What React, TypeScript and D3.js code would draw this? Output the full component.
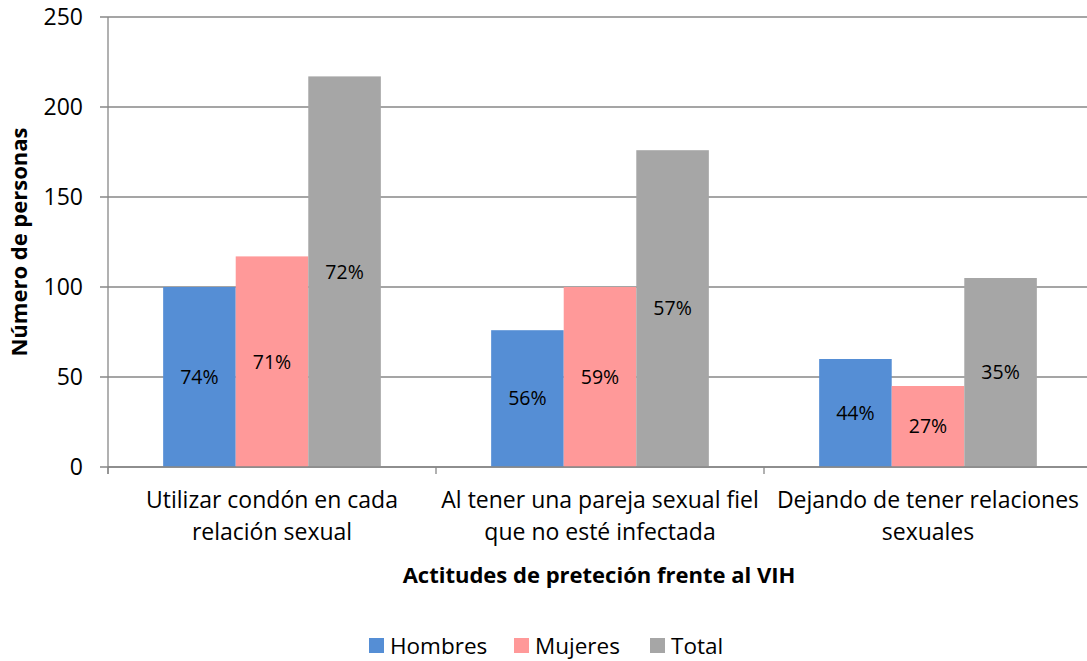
import { useEffect, useRef } from "react";
import * as d3 from "d3";

const categories = [
  ["Utilizar condón en cada", "relación sexual"],
  ["Al tener una pareja sexual fiel", "que no esté infectada"],
  ["Dejando de tener relaciones", "sexuales"],
];
const seriesNames = ["Hombres", "Mujeres", "Total"];
const hombres = [100, 76, 60];
const mujeres = [117, 100, 45];
const total = [217, 176, 105];
const hombresPct = ["74%", "56%", "44%"];
const mujeresPct = ["71%", "59%", "27%"];
const totalPct = ["72%", "57%", "35%"];
const yTicks = [0, 50, 100, 150, 200, 250];
const colors = ["#558ed5", "#ff9999", "#a6a6a6"];

const FONT = "'Open Sans', sans-serif";

export default function App() {
  const ref = useRef<SVGSVGElement | null>(null);

  useEffect(() => {
    if (!ref.current) return;
    const svg = d3.select(ref.current);
    svg.selectAll("*").remove();

    const left = 108;
    const right = 1092;
    const top = 17;
    const bottom = 467;

    const series = [hombres, mujeres, total];
    const labels = [hombresPct, mujeresPct, totalPct];

    const x0 = d3
      .scaleBand<number>()
      .domain(d3.range(categories.length))
      .range([left, right]);
    const x1 = d3
      .scaleBand<number>()
      .domain(d3.range(seriesNames.length))
      .range([0, x0.bandwidth()])
      .paddingOuter(0.76)
      .paddingInner(0);
    const y = d3.scaleLinear().domain([0, 250]).range([bottom, top]);

    // grid
    svg
      .append("g")
      .selectAll("line")
      .data(yTicks)
      .join("line")
      .attr("x1", left - 8)
      .attr("x2", right)
      .attr("y1", (d) => y(d))
      .attr("y2", (d) => y(d))
      .attr("stroke", "#878787")
      .attr("stroke-width", 1.3);

    // bars
    series.forEach((vals, si) => {
      const g = svg.append("g");
      g.selectAll("rect")
        .data(vals)
        .join("rect")
        .attr("x", (_, i) => x0(i)! + x1(si)!)
        .attr("y", (d) => y(d))
        .attr("width", x1.bandwidth())
        .attr("height", (d) => y(0) - y(d))
        .attr("fill", colors[si]);
      g.selectAll("text")
        .data(vals)
        .join("text")
        .attr("x", (_, i) => x0(i)! + x1(si)! + x1.bandwidth() / 2)
        .attr("y", (d) => (y(d) + y(0)) / 2)
        .attr("dy", "0.35em")
        .attr("text-anchor", "middle")
        .attr("font-family", FONT)
        .attr("font-size", 19.5)
        .attr("fill", "#000")
        .text((_, i) => labels[si][i]);
    });

    // axes lines
    svg
      .append("line")
      .attr("x1", left)
      .attr("x2", left)
      .attr("y1", top)
      .attr("y2", bottom + 7)
      .attr("stroke", "#878787")
      .attr("stroke-width", 1.3);
    svg
      .append("line")
      .attr("x1", left)
      .attr("x2", right)
      .attr("y1", bottom)
      .attr("y2", bottom)
      .attr("stroke", "#878787")
      .attr("stroke-width", 1.3);
    svg
      .append("g")
      .selectAll("line")
      .data(d3.range(categories.length + 1))
      .join("line")
      .attr("x1", (i) => left + i * x0.step())
      .attr("x2", (i) => left + i * x0.step())
      .attr("y1", bottom)
      .attr("y2", bottom + 7)
      .attr("stroke", "#878787")
      .attr("stroke-width", 1.3);

    // y tick labels
    svg
      .append("g")
      .selectAll("text")
      .data(yTicks)
      .join("text")
      .attr("x", 83)
      .attr("y", (d) => y(d))
      .attr("dy", "0.35em")
      .attr("text-anchor", "end")
      .attr("font-family", FONT)
      .attr("font-size", 23)
      .attr("fill", "#000")
      .text((d) => d);

    // x category labels
    const cat = svg.append("g");
    categories.forEach((lines, i) => {
      lines.forEach((ln, li) => {
        cat
          .append("text")
          .attr("x", x0(i)! + x0.bandwidth() / 2)
          .attr("y", 508 + li * 32)
          .attr("text-anchor", "middle")
          .attr("font-family", FONT)
          .attr("font-size", 23)
          .attr("fill", "#000")
          .text(ln);
      });
    });

    // axis titles
    svg
      .append("text")
      .attr("x", 599)
      .attr("y", 583)
      .attr("text-anchor", "middle")
      .attr("font-family", FONT)
      .attr("font-size", 22)
      .attr("font-weight", "bold")
      .attr("fill", "#000")
      .text("Actitudes de preteción frente al VIH");
    svg
      .append("text")
      .attr("transform", "translate(27,242) rotate(-90)")
      .attr("text-anchor", "middle")
      .attr("font-family", FONT)
      .attr("font-size", 22)
      .attr("font-weight", "bold")
      .attr("fill", "#000")
      .text("Número de personas");

    // legend
    const legendX = [369, 514, 650];
    const lg = svg.append("g");
    seriesNames.forEach((name, i) => {
      lg.append("rect")
        .attr("x", legendX[i])
        .attr("y", 638)
        .attr("width", 15)
        .attr("height", 15)
        .attr("fill", colors[i]);
      lg.append("text")
        .attr("x", legendX[i] + 21)
        .attr("y", 654)
        .attr("font-family", FONT)
        .attr("font-size", 22.5)
        .attr("fill", "#000")
        .text(name);
    });
  }, []);

  return (
    <svg
      ref={ref}
      width={1087}
      height={661}
      style={{ position: "absolute", left: 0, top: 0, background: "#fff" }}
    />
  );
}
